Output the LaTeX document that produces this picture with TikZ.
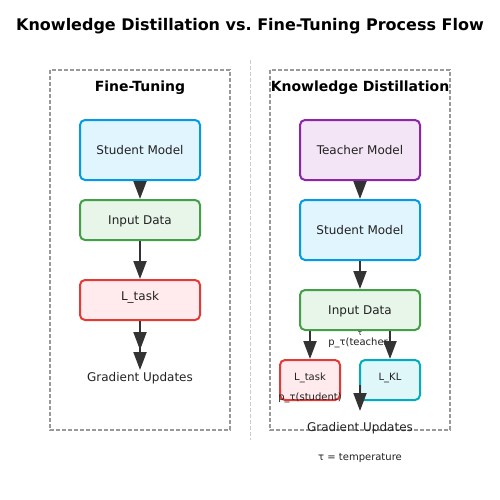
\documentclass[tikz,border=0pt]{standalone}
\usepackage{fontspec}
\setmainfont{DejaVu Sans}
\usetikzlibrary{arrows.meta}
\definecolor{txt}{HTML}{222222}
\definecolor{dk}{HTML}{333333}
\definecolor{pan}{HTML}{999999}
\definecolor{divc}{HTML}{CCCCCC}
\definecolor{stuF}{HTML}{E1F5FE}\definecolor{stuD}{HTML}{039BE5}
\definecolor{inF}{HTML}{E8F5E9}\definecolor{inD}{HTML}{43A047}
\definecolor{lossF}{HTML}{FFEBEE}\definecolor{lossD}{HTML}{E53935}
\definecolor{teaF}{HTML}{F3E5F5}\definecolor{teaD}{HTML}{8E24AA}
\definecolor{klF}{HTML}{E0F7FA}\definecolor{klD}{HTML}{00ACC1}
\tikzset{
  box/.style={draw, line width=2pt, rounded corners=5pt, minimum width=120pt, minimum height=60pt, inner sep=0pt, text=txt, font=\fontsize{12}{14}\selectfont, text height=9pt, text depth=-2.4pt},
  lossbox/.style={box, text height=8pt, text depth=8pt},
  smallbox/.style={box, minimum width=60pt, minimum height=40pt, font=\fontsize{10}{12}\selectfont, text height=7pt, text depth=7pt},
  arr/.style={draw=dk, line width=2pt, -{Triangle[length=18pt,width=13pt]}},
  dblarr/.style={draw=dk, line width=2pt, -{Triangle[length=18pt,width=13pt,sep=2pt]Triangle[length=18pt,width=13pt]}},
  panel/.style={draw=pan, line width=1.5pt, dash pattern=on 4pt off 2pt},
  lbl/.style={text=txt, inner sep=0pt, anchor=base},
}
\begin{document}
\frenchspacing
\begin{tikzpicture}[x=1pt,y=-1pt]
\useasboundingbox (0,0) rectangle (500,500);
\fill[white] (0,0) rectangle (500,500);
% title
\node[lbl, font=\bfseries\fontsize{16}{19}\selectfont, text=black] (title) at (250,31) {Knowledge Distillation vs.\ Fine-Tuning Process Flow};
% divider
\coordinate (dtop) at (250,60);
\coordinate (dbot) at (250,440);
\draw[divc, line width=1pt, dash pattern=on 4pt off 2pt] (dtop) -- (dbot);
% panels
\draw[panel] (50,70) rectangle (230,430);
\draw[panel] (270,70) rectangle (450,430);
\node[lbl, font=\bfseries\fontsize{14}{17}\selectfont, text=black] (ftt) at (140,91.5) {Fine-Tuning};
\node[lbl, font=\bfseries\fontsize{14}{17}\selectfont, text=black] (kdt) at (360,91.5) {Knowledge Distillation};
% left column
\node[box, draw=stuD, fill=stuF] (ls) at (140,150) {Student Model};
\node[box, draw=inD, fill=inF, minimum height=40pt] (li) at (140,220) {Input Data};
\node[lossbox, draw=lossD, fill=lossF, minimum height=40pt] (ll) at (140,300) {L\_task};
\coordinate (lg) at (140,370);
\node[lbl, font=\fontsize{12}{14}\selectfont] (lgt) at (140,381) {Gradient Updates};
\draw[arr] (ls) -- (li);
\draw[arr] (li) -- (ll);
\draw[dblarr] (ll) -- (lg);
% right column
\node[box, draw=teaD, fill=teaF] (rt) at (360,150) {Teacher Model};
\node[box, draw=stuD, fill=stuF] (rs) at (360,230) {Student Model};
\node[box, draw=inD, fill=inF, minimum height=40pt] (ri) at (360,310) {Input Data};
\node[smallbox, draw=lossD, fill=lossF] (rl) at (310,380) {L\_task};
\node[smallbox, draw=klD, fill=klF] (rk) at (390,380) {L\_KL};
\node[lbl, font=\fontsize{7}{8}\selectfont] (tau) at (360,335) {τ};
\node[lbl, font=\fontsize{10}{12}\selectfont] (pt) at (360,345) {p\_τ(teacher)};
\node[lbl, font=\fontsize{10}{12}\selectfont] (ps) at (310,400) {p\_τ(student)};
\draw[arr] (rt) -- (rs);
\draw[arr] (rs) -- (ri);
\draw[arr] (ri.south -| rl) -- (rl.north);
\draw[arr] (ri.south -| rk) -- (rk.north);
\coordinate (gs) at (360,385);
\coordinate (ge) at (360,411);
\draw[arr] (gs) -- (ge);
\node[lbl, font=\fontsize{12}{14}\selectfont] (rgt) at (360,431) {Gradient Updates};
\node[lbl, font=\fontsize{10}{12}\selectfont] (temp) at (360,460) {τ = temperature};
\end{tikzpicture}
\end{document}
